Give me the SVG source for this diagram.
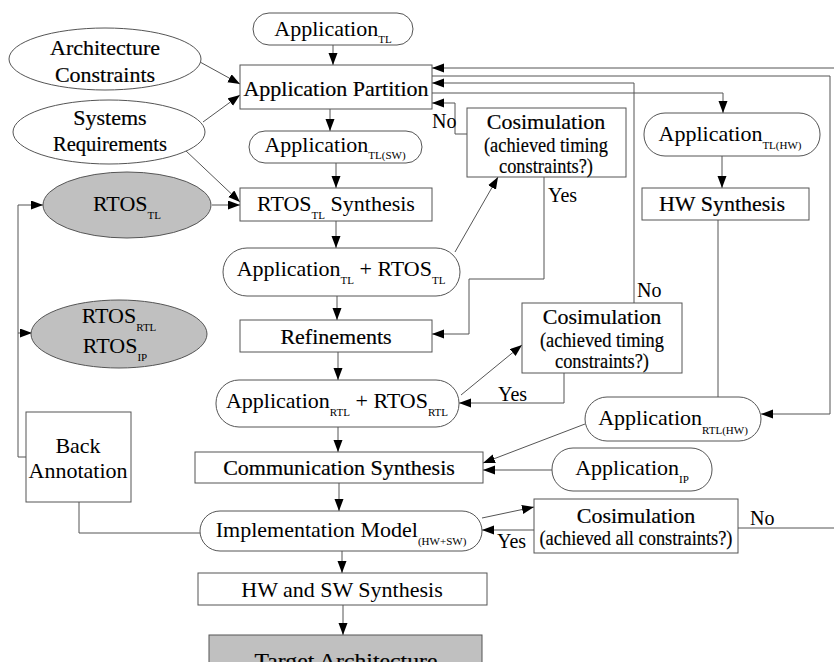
<svg xmlns="http://www.w3.org/2000/svg" width="834" height="662" viewBox="0 0 834 662" font-family="'Liberation Serif', 'DejaVu Serif', serif">
<style>
text{font-family:'Liberation Serif','DejaVu Serif',serif;font-size:22px;fill:#000}
.c{text-anchor:middle}
.b{stroke:#000;stroke-width:0.2}
.s{font-size:11px;stroke:none}
.lbl{font-size:20px}
.n{fill:#fff;stroke:#555;stroke-width:1}
.g{fill:#c0c0c0;stroke:#555;stroke-width:1}
.e{fill:none;stroke:#555;stroke-width:1}
</style>
<defs>
<marker id="a" markerUnits="userSpaceOnUse" markerWidth="13" markerHeight="10" refX="12" refY="4.5" orient="auto">
<path d="M0,0 L12,4.5 L0,9 z" fill="#000"/>
</marker>
</defs>
<rect width="834" height="662" fill="#fff"/>
<g id="connectors">
<line class="e" x1="333" y1="45" x2="333" y2="65" marker-end="url(#a)"/>
<line class="e" x1="200" y1="62" x2="240" y2="84" marker-end="url(#a)"/>
<line class="e" x1="203" y1="122" x2="240" y2="95" marker-end="url(#a)"/>
<line class="e" x1="185" y1="150" x2="240" y2="202" marker-end="url(#a)"/>
<line class="e" x1="212" y1="205" x2="240" y2="205" marker-end="url(#a)"/>
<line class="e" x1="330" y1="109" x2="330" y2="131" marker-end="url(#a)"/>
<line class="e" x1="336" y1="163" x2="336" y2="188" marker-end="url(#a)"/>
<line class="e" x1="336" y1="221" x2="336" y2="248" marker-end="url(#a)"/>
<line class="e" x1="337" y1="296" x2="337" y2="320" marker-end="url(#a)"/>
<line class="e" x1="338" y1="352" x2="338" y2="380" marker-end="url(#a)"/>
<line class="e" x1="338" y1="427" x2="338" y2="452" marker-end="url(#a)"/>
<line class="e" x1="339" y1="483" x2="339" y2="511" marker-end="url(#a)"/>
<line class="e" x1="342" y1="551" x2="342" y2="573" marker-end="url(#a)"/>
<line class="e" x1="343" y1="605" x2="343" y2="635" marker-end="url(#a)"/>
<line class="e" x1="455" y1="252" x2="498" y2="177" marker-end="url(#a)"/>
<polyline class="e" points="467,134 455,134 455,103 432,103" marker-end="url(#a)"/>
<polyline class="e" points="544,177 544,279 469,279 469,334 432,334" marker-end="url(#a)"/>
<polyline class="e" points="432,93 723,93 723,113" marker-end="url(#a)"/>
<polyline class="e" points="432,76 830,76 830,414 761,414" marker-end="url(#a)"/>
<polyline class="e" points="634,303 634,83 432,83" marker-end="url(#a)"/>
<line class="e" x1="834" y1="68" x2="432" y2="68" marker-end="url(#a)"/>
<line class="e" x1="738" y1="528" x2="834" y2="528"/>
<line class="e" x1="722" y1="156" x2="722" y2="188" marker-end="url(#a)"/>
<line class="e" x1="718" y1="220" x2="718" y2="397"/>
<line class="e" x1="461" y1="395" x2="522" y2="345" marker-end="url(#a)"/>
<polyline class="e" points="564,373 564,403 459,403" marker-end="url(#a)"/>
<line class="e" x1="585" y1="424" x2="483" y2="463" marker-end="url(#a)"/>
<line class="e" x1="552" y1="470" x2="483" y2="470" marker-end="url(#a)"/>
<line class="e" x1="482" y1="518" x2="534" y2="507" marker-end="url(#a)"/>
<line class="e" x1="534" y1="530" x2="482" y2="530" marker-end="url(#a)"/>
<polyline class="e" points="79,502 79,533 200,533"/>
<polyline class="e" points="26,457 18,457 18,205 43,205" marker-end="url(#a)"/>
<line class="e" x1="18" y1="333" x2="32" y2="333" marker-end="url(#a)"/>
<text class="lbl" x="432" y="128">No</text>
<text class="lbl" x="548" y="202">Yes</text>
<text class="lbl" x="637" y="297">No</text>
<text class="lbl" x="498" y="401">Yes</text>
<text class="lbl" x="750" y="525">No</text>
<text class="lbl" x="497" y="548">Yes</text>
</g>
<g id="app-tl">
<rect class="n" x="253" y="13" width="160" height="32" rx="16"/>
<text class="c" x="333" y="36">Application<tspan class="s" dy="7">TL</tspan></text>
</g>
<g id="arch-constraints">
<ellipse class="n" cx="105" cy="59" rx="96" ry="31"/>
<text class="c b" x="105" y="55">Architecture</text>
<text class="c b" x="105" y="82">Constraints</text>
</g>
<g id="app-partition">
<rect class="n" x="240" y="65" width="192" height="44"/>
<text class="c b" x="336" y="96">Application Partition</text>
</g>
<g id="sys-req">
<ellipse class="n" cx="109" cy="132" rx="96" ry="32"/>
<text class="c b" x="110" y="125">Systems</text>
<text class="c b" x="110" y="151" textLength="114" lengthAdjust="spacingAndGlyphs">Requirements</text>
</g>
<g id="app-tl-sw">
<rect class="n" x="249" y="131" width="173" height="32" rx="16"/>
<text class="c" x="335" y="152">Application<tspan class="s" dy="7">TL(SW)</tspan></text>
</g>
<g id="cosim1">
<rect class="n" x="467" y="108" width="159" height="69"/>
<text class="c b" x="546" y="129">Cosimulation</text>
<text class="c b" x="546" y="152" textLength="124" lengthAdjust="spacingAndGlyphs">(achieved timing</text>
<text class="c b" x="546" y="173" textLength="94" lengthAdjust="spacingAndGlyphs">constraints?)</text>
</g>
<g id="app-tl-hw">
<rect class="n" x="644" y="113" width="176" height="43" rx="21"/>
<text class="c" x="730" y="141">Application<tspan class="s" dy="8">TL(HW)</tspan></text>
</g>
<g id="rtos-tl">
<ellipse class="g" cx="127" cy="205" rx="84" ry="33"/>
<text class="c" x="127" y="211">RTOS<tspan class="s" dy="8">TL</tspan></text>
</g>
<g id="rtos-synth">
<rect class="n" x="240" y="188" width="192" height="33"/>
<text class="c" x="336" y="211">RTOS<tspan class="s" dy="8">TL</tspan><tspan dy="-8"> Synthesis</tspan></text>
</g>
<g id="hw-synth">
<rect class="n" x="642" y="188" width="167" height="32"/>
<text class="c b" x="722" y="211">HW Synthesis</text>
</g>
<g id="app-rtos-tl">
<rect class="n" x="223" y="248" width="237" height="48" rx="24"/>
<text class="c" x="341" y="276">Application<tspan class="s" dy="8">TL</tspan><tspan dy="-8"> + RTOS</tspan><tspan class="s" dy="8">TL</tspan></text>
</g>
<g id="rtos-rtl-ip">
<ellipse class="g" cx="119" cy="334" rx="88" ry="34"/>
<text class="c" x="119" y="323">RTOS<tspan class="s" dy="8">RTL</tspan></text>
<text class="c" x="115" y="353">RTOS<tspan class="s" dy="8">IP</tspan></text>
</g>
<g id="refinements">
<rect class="n" x="240" y="320" width="192" height="32"/>
<text class="c b" x="336" y="344">Refinements</text>
</g>
<g id="cosim2">
<rect class="n" x="522" y="303" width="160" height="70"/>
<text class="c b" x="602" y="324">Cosimulation</text>
<text class="c b" x="602" y="347" textLength="124" lengthAdjust="spacingAndGlyphs">(achieved timing</text>
<text class="c b" x="602" y="368" textLength="94" lengthAdjust="spacingAndGlyphs">constraints?)</text>
</g>
<g id="app-rtos-rtl">
<rect class="n" x="216" y="380" width="243" height="47" rx="23"/>
<text class="c" x="337" y="408">Application<tspan class="s" dy="8">RTL</tspan><tspan dy="-8"> + RTOS</tspan><tspan class="s" dy="8">RTL</tspan></text>
</g>
<g id="app-rtl-hw">
<rect class="n" x="585" y="397" width="176" height="44" rx="22"/>
<text class="c" x="673" y="425">Application<tspan class="s" dy="9">RTL(HW)</tspan></text>
</g>
<g id="back-annotation">
<rect class="n" x="26" y="412" width="105" height="90"/>
<text class="c" x="78" y="453">Back</text>
<text class="c" x="78" y="478">Annotation</text>
</g>
<g id="comm-synth">
<rect class="n" x="195" y="452" width="288" height="31"/>
<text class="c b" x="339" y="475">Communication Synthesis</text>
</g>
<g id="app-ip">
<rect class="n" x="552" y="448" width="160" height="43" rx="21"/>
<text class="c" x="632" y="475">Application<tspan class="s" dy="8">IP</tspan></text>
</g>
<g id="impl-model">
<rect class="n" x="200" y="511" width="282" height="40" rx="20"/>
<text class="c" x="341" y="537">Implementation Model<tspan class="s" dy="8">(HW+SW)</tspan></text>
</g>
<g id="cosim3">
<rect class="n" x="534" y="499" width="204" height="54"/>
<text class="c b" x="636" y="523">Cosimulation</text>
<text class="c b" x="636" y="545" textLength="193" lengthAdjust="spacingAndGlyphs">(achieved all constraints?)</text>
</g>
<g id="hw-sw-synth">
<rect class="n" x="198" y="573" width="289" height="32"/>
<text class="c" x="342" y="597">HW and SW Synthesis</text>
</g>
<g id="target-arch">
<rect class="g" x="209" y="635" width="273" height="40"/>
<text class="c b" x="346" y="668" textLength="183" lengthAdjust="spacingAndGlyphs">Target Architecture</text>
</g>
</svg>
